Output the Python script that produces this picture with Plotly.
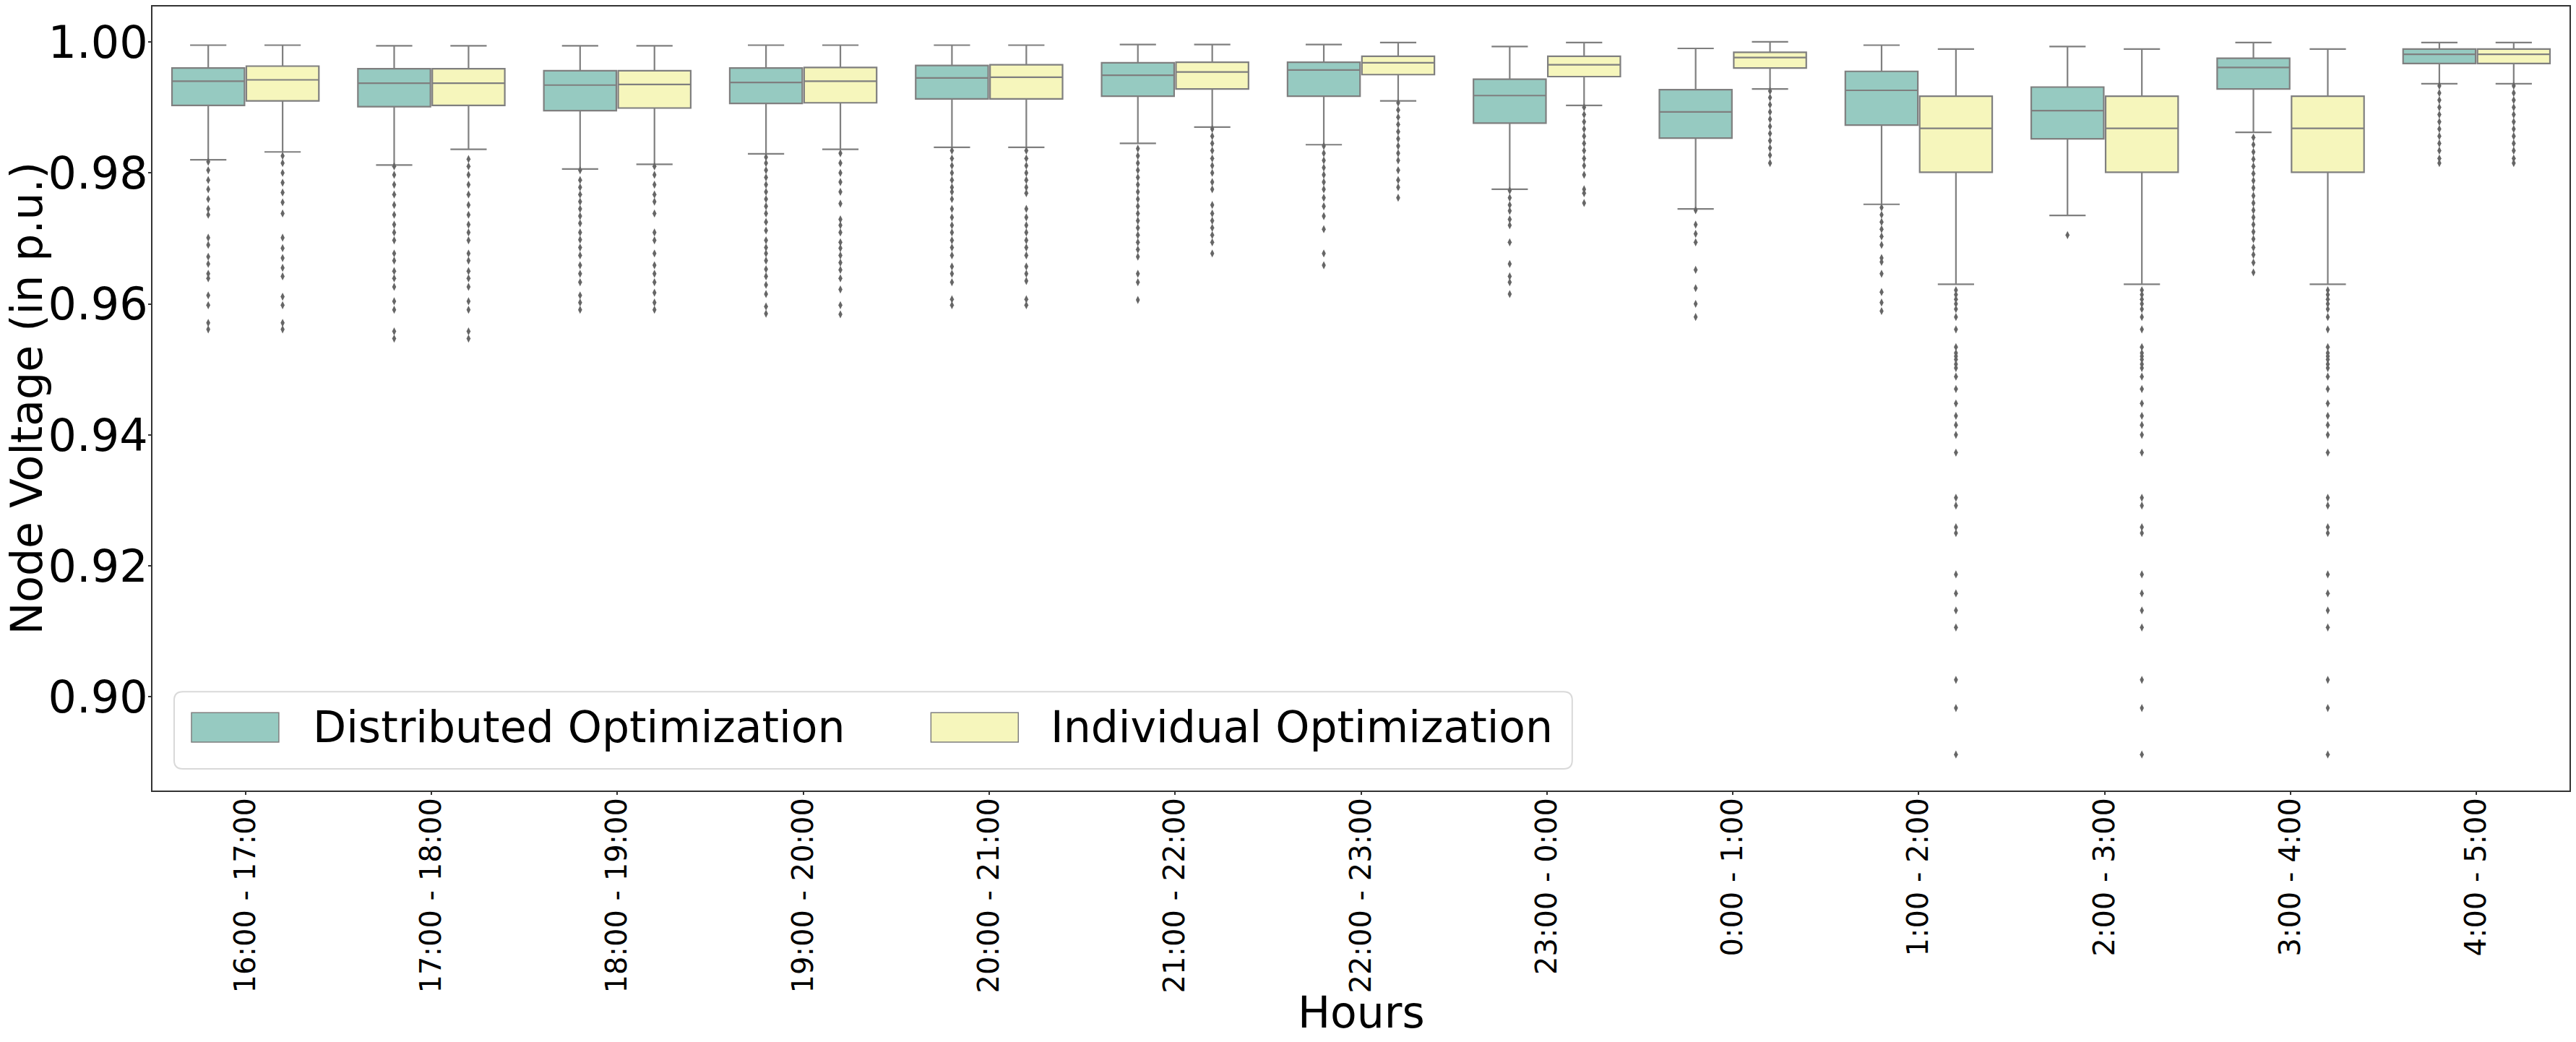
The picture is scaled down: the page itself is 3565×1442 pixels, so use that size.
import numpy as np
import plotly.graph_objects as go

hours = ["16:00 - 17:00", "17:00 - 18:00", "18:00 - 19:00", "19:00 - 20:00",
         "20:00 - 21:00", "21:00 - 22:00", "22:00 - 23:00", "23:00 - 0:00",
         "0:00 - 1:00", "1:00 - 2:00", "2:00 - 3:00", "3:00 - 4:00", "4:00 - 5:00"]

# Distributed Optimization box stats
dist_hi = [0.9995, 0.9994, 0.9994, 0.9995, 0.9995, 0.9996, 0.9996, 0.9993, 0.9990, 0.9995, 0.9993, 0.9999, 0.9999]
dist_q3 = [0.9960, 0.9959, 0.9956, 0.9960, 0.9964, 0.9968, 0.9969, 0.9943, 0.9927, 0.9955, 0.9931, 0.9975, 0.9989]
dist_med = [0.9940, 0.9937, 0.9934, 0.9938, 0.9945, 0.9949, 0.9957, 0.9918, 0.9893, 0.9926, 0.9895, 0.9961, 0.9981]
dist_q1 = [0.9903, 0.9901, 0.9895, 0.9906, 0.9913, 0.9917, 0.9917, 0.9876, 0.9853, 0.9873, 0.9852, 0.9928, 0.9967]
dist_lo = [0.9820, 0.9812, 0.9806, 0.9829, 0.9839, 0.9845, 0.9843, 0.9775, 0.9745, 0.9752, 0.9735, 0.9862, 0.9936]

# Individual Optimization box stats
ind_hi = [0.9995, 0.9994, 0.9994, 0.9995, 0.9995, 0.9996, 0.9999, 0.9999, 1.0000, 0.9989, 0.9989, 0.9989, 0.9999]
ind_q3 = [0.9963, 0.9959, 0.9956, 0.9961, 0.9965, 0.9969, 0.9978, 0.9978, 0.9984, 0.9917, 0.9917, 0.9917, 0.9989]
ind_med = [0.9942, 0.9937, 0.9935, 0.9940, 0.9946, 0.9954, 0.9968, 0.9965, 0.9976, 0.9868, 0.9868, 0.9868, 0.9981]
ind_q1 = [0.9910, 0.9903, 0.9899, 0.9907, 0.9913, 0.9928, 0.9950, 0.9947, 0.9960, 0.9801, 0.9801, 0.9801, 0.9967]
ind_lo = [0.9832, 0.9836, 0.9813, 0.9836, 0.9839, 0.9870, 0.9910, 0.9903, 0.9928, 0.9630, 0.9630, 0.9630, 0.9936]

# outliers (fliers) per hour
dist_out = [
    [0.9817, 0.9804, 0.9789, 0.9775, 0.9760, 0.9745, 0.9736, 0.9701, 0.9690, 0.9672, 0.9661, 0.9646, 0.9639, 0.9613, 0.9598, 0.9571, 0.9561],
    [0.9810, 0.9797, 0.9782, 0.9767, 0.9751, 0.9736, 0.9721, 0.9709, 0.9697, 0.9677, 0.9666, 0.9650, 0.9639, 0.9626, 0.9604, 0.9591, 0.9558, 0.9547],
    [0.9804, 0.9789, 0.9778, 0.9767, 0.9756, 0.9745, 0.9734, 0.9723, 0.9709, 0.9698, 0.9686, 0.9674, 0.9659, 0.9646, 0.9633, 0.9613, 0.9602, 0.9591],
    [0.9824, 0.9815, 0.9804, 0.9793, 0.9782, 0.9771, 0.9760, 0.9749, 0.9738, 0.9725, 0.9712, 0.9697, 0.9686, 0.9677, 0.9666, 0.9653, 0.9642, 0.9629, 0.9615, 0.9596, 0.9585],
    [0.9834, 0.9822, 0.9811, 0.9800, 0.9789, 0.9778, 0.9771, 0.9760, 0.9745, 0.9732, 0.9720, 0.9709, 0.9697, 0.9686, 0.9674, 0.9657, 0.9646, 0.9633, 0.9607, 0.9598],
    [0.9837, 0.9826, 0.9815, 0.9804, 0.9793, 0.9782, 0.9771, 0.9760, 0.9749, 0.9738, 0.9727, 0.9716, 0.9705, 0.9694, 0.9683, 0.9672, 0.9646, 0.9633, 0.9606],
    [0.9841, 0.9830, 0.9819, 0.9808, 0.9797, 0.9786, 0.9775, 0.9762, 0.9749, 0.9734, 0.9714, 0.9677, 0.9659],
    [0.9773, 0.9762, 0.9751, 0.9742, 0.9729, 0.9720, 0.9694, 0.9661, 0.9642, 0.9633, 0.9615],
    [0.9743, 0.9721, 0.9707, 0.9694, 0.9652, 0.9624, 0.9600, 0.9580],
    [0.9747, 0.9736, 0.9725, 0.9714, 0.9703, 0.9690, 0.9670, 0.9664, 0.9646, 0.9618, 0.9602, 0.9589],
    [0.9705],
    [0.9854, 0.9843, 0.9832, 0.9821, 0.9810, 0.9799, 0.9788, 0.9777, 0.9765, 0.9754, 0.9743, 0.9732, 0.9721, 0.9710, 0.9699, 0.9686, 0.9675, 0.9663, 0.9648],
    [0.9933, 0.9922, 0.9911, 0.9900, 0.9889, 0.9878, 0.9867, 0.9856, 0.9845, 0.9834, 0.9822, 0.9815],
]
night_ind_out = [0.9621, 0.9614, 0.9607, 0.9600, 0.9592, 0.9580, 0.9561, 0.9534, 0.9525, 0.9520, 0.9515,
                 0.9508, 0.9502, 0.9489, 0.9470, 0.9448, 0.9429, 0.9415, 0.9400, 0.9373, 0.9304, 0.9292,
                 0.9259, 0.9250, 0.9187, 0.9158, 0.9132, 0.9106, 0.9026, 0.8983, 0.8912]
ind_out = [
    [0.9826, 0.9815, 0.9800, 0.9785, 0.9770, 0.9755, 0.9738, 0.9701, 0.9685, 0.9670, 0.9655, 0.9642, 0.9611, 0.9598, 0.9571, 0.9561],
    [0.9821, 0.9810, 0.9797, 0.9782, 0.9767, 0.9751, 0.9736, 0.9721, 0.9709, 0.9697, 0.9677, 0.9666, 0.9650, 0.9639, 0.9626, 0.9604, 0.9591, 0.9558, 0.9547],
    [0.9810, 0.9797, 0.9782, 0.9767, 0.9756, 0.9738, 0.9709, 0.9697, 0.9677, 0.9659, 0.9646, 0.9633, 0.9617, 0.9602, 0.9591],
    [0.9830, 0.9815, 0.9800, 0.9786, 0.9771, 0.9753, 0.9729, 0.9720, 0.9709, 0.9694, 0.9685, 0.9674, 0.9663, 0.9652, 0.9639, 0.9622, 0.9598, 0.9584],
    [0.9834, 0.9822, 0.9811, 0.9800, 0.9789, 0.9778, 0.9769, 0.9745, 0.9732, 0.9720, 0.9709, 0.9697, 0.9686, 0.9674, 0.9657, 0.9646, 0.9635, 0.9607, 0.9598],
    [0.9867, 0.9856, 0.9845, 0.9834, 0.9822, 0.9811, 0.9800, 0.9786, 0.9775, 0.9751, 0.9738, 0.9727, 0.9716, 0.9705, 0.9694, 0.9677],
    [0.9907, 0.9896, 0.9885, 0.9874, 0.9863, 0.9852, 0.9841, 0.9830, 0.9819, 0.9804, 0.9789, 0.9778, 0.9762],
    [0.9900, 0.9889, 0.9878, 0.9867, 0.9856, 0.9845, 0.9834, 0.9822, 0.9811, 0.9797, 0.9775, 0.9769, 0.9754],
    [0.9925, 0.9915, 0.9904, 0.9893, 0.9882, 0.9871, 0.9860, 0.9849, 0.9838, 0.9827, 0.9815],
    night_ind_out,
    night_ind_out,
    night_ind_out,
    [0.9933, 0.9922, 0.9911, 0.9900, 0.9889, 0.9878, 0.9867, 0.9856, 0.9845, 0.9834, 0.9822, 0.9815],
]

names = ["Distributed Optimization", "Individual Optimization"]
fills = ["#96CAC1", "#F6F6BC"]
edge = "#7f7f7f"
flier = "#666666"
FONT = "DejaVu Sans"
BIG = 60

W, H = 3565, 1442
ML, MR, MT, MB = 211, 7, 7, 348

idx = np.arange(len(hours))
offsets = [-0.2, 0.2]
stats = [(dist_lo, dist_q1, dist_med, dist_q3, dist_hi, dist_out),
         (ind_lo, ind_q1, ind_med, ind_q3, ind_hi, ind_out)]

fig = go.Figure()
for k, (lo, q1, med, q3, hi, outs) in enumerate(stats):
    xpos = idx + offsets[k]
    fig.add_trace(go.Box(
        x=xpos, lowerfence=lo, q1=q1, median=med, q3=q3, upperfence=hi,
        width=0.39, whiskerwidth=0.5, fillcolor=fills[k],
        line=dict(color=edge, width=2.2), boxpoints=False,
        name=names[k], showlegend=False))
    fx, fy = [], []
    for i, vals in enumerate(outs):
        fx += [xpos[i]] * len(vals)
        fy += vals
    fig.add_trace(go.Scatter(
        x=fx, y=fy, mode="markers", showlegend=False, hoverinfo="y",
        marker=dict(symbol="diamond-tall", size=8, color=flier,
                    line=dict(width=0))))

# legend drawn by hand (matplotlib style frame with large patches)
pw = W - ML - MR
ph = H - MT - MB


def px(x):
    return (x - ML) / pw


def py(y):
    return (H - MB - y) / ph


def rounded(x0, y0, x1, y1, r):
    rx, ry = r / pw, r / ph
    a0, b0, a1, b1 = px(x0), py(y1), px(x1), py(y0)
    return (f"M{a0 + rx},{b0} L{a1 - rx},{b0} Q{a1},{b0} {a1},{b0 + ry} "
            f"L{a1},{b1 - ry} Q{a1},{b1} {a1 - rx},{b1} L{a0 + rx},{b1} "
            f"Q{a0},{b1} {a0},{b1 - ry} L{a0},{b0 + ry} Q{a0},{b0} {a0 + rx},{b0} Z")


shapes = [dict(type="path", xref="paper", yref="paper", path=rounded(241, 957, 2177, 1064, 12),
               line=dict(color="#d9d9d9", width=2), fillcolor="rgba(255,255,255,0.8)", layer="above")]
annotations = []
patch_x = [265, 1289]
text_x = [431, 1453]
for k in range(2):
    shapes.append(dict(type="rect", xref="paper", yref="paper",
                       x0=px(patch_x[k]), x1=px(patch_x[k] + 121), y0=py(1027), y1=py(986),
                       fillcolor=fills[k], line=dict(color=edge, width=1.5), layer="above"))
    annotations.append(dict(xref="paper", yref="paper", x=px(text_x[k]), y=py(1006),
                            text=names[k], showarrow=False, xanchor="left", yanchor="middle",
                            font=dict(family=FONT, size=BIG, color="black")))

# axis titles
annotations.append(dict(xref="paper", yref="paper", x=px(36), y=0.5, text="Node Voltage (in p.u.)",
                        textangle=-90, showarrow=False, xanchor="center", yanchor="middle",
                        font=dict(family=FONT, size=BIG, color="black")))
annotations.append(dict(xref="paper", yref="paper", x=0.5, y=py(1402), text="Hours",
                        showarrow=False, xanchor="center", yanchor="middle",
                        font=dict(family=FONT, size=BIG, color="black")))

fig.update_layout(
    width=W, height=H,
    margin=dict(l=ML, r=MR, t=MT, b=MB, pad=0),
    paper_bgcolor="white", plot_bgcolor="white",
    font=dict(family=FONT, color="black"),
    shapes=shapes, annotations=annotations,
    xaxis=dict(range=[-0.5, len(hours) - 0.5], tickvals=idx, ticktext=hours,
               tickangle=-90, tickfont=dict(size=40), showgrid=False, zeroline=False,
               showline=True, linecolor="#333333", linewidth=2, mirror=True,
               ticks="outside", ticklen=4, tickwidth=1.5, tickcolor="#333333",
               ticklabelstandoff=-12),
    yaxis=dict(range=[0.8857, 1.0054], tickvals=[0.90, 0.92, 0.94, 0.96, 0.98, 1.00],
               tickformat=".2f", tickfont=dict(size=62), showgrid=False, zeroline=False,
               showline=True, linecolor="#333333", linewidth=2, mirror=True,
               ticks="outside", ticklen=4, tickwidth=1.5, tickcolor="#333333",
               ticklabelstandoff=-12),
)

fig.write_html("out.html", config={"displayModeBar": False},
               post_script="document.body.style.margin='0';")
